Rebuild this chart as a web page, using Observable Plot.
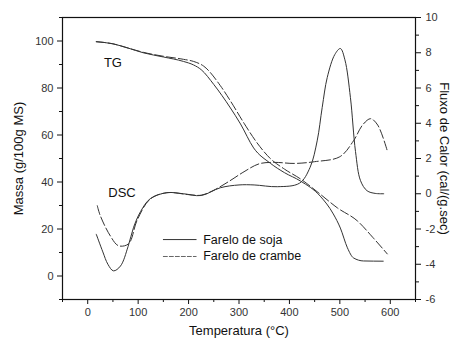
<!DOCTYPE html>
<html>
<head>
<meta charset="utf-8">
<script src="https://cdn.jsdelivr.net/npm/d3@7"></script>
<script src="https://cdn.jsdelivr.net/npm/@observablehq/plot@0.6"></script>
<style>
  html, body { margin: 0; padding: 0; background: #fff; }
  svg { font-family: "Liberation Sans", Arial, sans-serif; }
</style>
</head>
<body>
<div id="chart"></div>
<script>
// TG (left axis, Massa g/100g MS)
const tgSojaT   = [17, 50, 80, 110, 150, 190, 210, 225, 250, 283, 303, 329, 362, 390, 422, 461, 487, 501, 515, 527, 547, 586];
const tgSojaV   = [99.7, 98.8, 97, 95, 93.2, 91.3, 89.8, 87.8, 81.5, 71.5, 64.7, 54.5, 48, 44, 40.4, 34, 26.4, 20.4, 12, 7.7, 6.4, 6.3];
const tgCrambeT = [17, 50, 80, 110, 150, 190, 210, 230, 263, 283, 310, 336, 362, 390, 422, 460, 495, 535, 565, 594];
const tgCrambeV = [99.7, 98.8, 97, 95.2, 93.5, 92.2, 91.3, 89.3, 81, 74.5, 65, 56.6, 50, 45.5, 41.3, 35, 29, 23.4, 16.5, 9.4];

// DSC (right axis, Fluxo de Calor cal/(g.sec))
const dscSojaT   = [17, 30, 40, 51, 65, 80, 91, 105, 124, 157, 190, 225, 263, 300, 330, 376, 420, 441, 455, 465, 475, 490, 501, 510, 521, 531, 541, 554, 570, 587];
const dscSojaV   = [-2.3, -3.3, -4.0, -4.375, -4.1, -3.0, -1.9, -1.0, -0.28, 0.06, 0.0, -0.1, 0.34, 0.5, 0.5, 0.4, 0.6, 1.5, 3.0, 4.9, 6.6, 7.9, 8.24, 7.6, 5.45, 2.4, 0.74, 0.17, 0.02, 0.0];
const dscCrambeT = [19, 25, 45, 61, 81, 98, 124, 157, 200, 225, 250, 280, 310, 340, 370, 410, 450, 500, 527, 545, 561, 575, 594];
const dscCrambeV = [-0.68, -1.25, -2.4, -2.95, -2.84, -1.5, -0.3, 0.06, -0.05, -0.08, 0.2, 0.7, 1.25, 1.7, 1.78, 1.72, 1.82, 2.1, 3.0, 3.9, 4.26, 3.9, 2.44];

const xTicks = [0, 100, 200, 300, 400, 500, 600];
const xMinor = [-50, 50, 150, 250, 350, 450, 550, 650];
const yTicks = [0, 20, 40, 60, 80, 100];
const yMinor = [-10, 10, 30, 50, 70, 90, 110];
const rTicks = [-6, -4, -2, 0, 2, 4, 6, 8, 10];
const rMinor = [-5, -3, -1, 1, 3, 5, 7, 9];

const seriesNames = ["Farelo de soja", "Farelo de crambe"];

// map right-axis heat flow onto left-axis coordinate
const toLeft = h => 35 + 7.5 * h;

const mk = (T, V, conv) => T.map((t, i) => ({T: t, v: conv ? toLeft(V[i]) : V[i]}));
const tgSoja = mk(tgSojaT, tgSojaV, false);
const tgCrambe = mk(tgCrambeT, tgCrambeV, false);
const dscSoja = mk(dscSojaT, dscSojaV, true);
const dscCrambe = mk(dscCrambeT, dscCrambeV, true);

const legendSolid = [{T: 150, v: 15.5}, {T: 215, v: 15.5}];
const legendDash  = [{T: 150, v: 8.3}, {T: 215, v: 8.3}];

const lineCol = "#333";
const dash = "9,3";

const chart = Plot.plot({
  width: 454,
  height: 342,
  marginLeft: 62,
  marginRight: 39,
  marginTop: 17,
  marginBottom: 43,
  style: {fontFamily: "Liberation Sans, Arial, sans-serif", fontSize: "11px", color: "#222", background: "#fff"},
  x: {domain: [-50, 650]},
  y: {domain: [-10, 110]},
  marks: [
    Plot.frame({stroke: "#111", strokeWidth: 1.2}),
    Plot.axisX({ticks: xTicks, tickSize: 5, tickPadding: 4, label: null, fill: "#333", stroke: "#111"}),
    Plot.axisX({ticks: xMinor, tickSize: 3, tickFormat: () => "", label: null, stroke: "#111"}),
    Plot.axisY({ticks: yTicks, tickSize: 5, tickPadding: 4, label: null, fill: "#333", stroke: "#111"}),
    Plot.axisY({ticks: yMinor, tickSize: 3, tickFormat: () => "", label: null, stroke: "#111"}),
    Plot.axisY({anchor: "right", ticks: rTicks.map(toLeft), tickSize: 5, tickPadding: 5, tickFormat: v => String(Math.round((v - 35) / 7.5)), label: null, fill: "#333", stroke: "#111"}),
    Plot.axisY({anchor: "right", ticks: rMinor.map(toLeft), tickSize: 3, tickFormat: () => "", label: null, stroke: "#111"}),
    // curves
    Plot.line(tgSoja, {x: "T", y: "v", curve: "monotone-x", stroke: lineCol, strokeWidth: 1}),
    Plot.line(tgCrambe, {x: "T", y: "v", curve: "monotone-x", stroke: lineCol, strokeWidth: 1, strokeDasharray: dash}),
    Plot.line(dscSoja, {x: "T", y: "v", curve: "catmull-rom", stroke: lineCol, strokeWidth: 1}),
    Plot.line(dscCrambe, {x: "T", y: "v", curve: "catmull-rom", stroke: lineCol, strokeWidth: 1, strokeDasharray: dash}),
    // curve labels
    Plot.text(["TG"], {x: 50, y: 90.5, fontSize: 13, fill: "#111"}),
    Plot.text(["DSC"], {x: 68, y: 35.5, fontSize: 13, fill: "#111"}),
    // legend
    Plot.line(legendSolid, {x: "T", y: "v", stroke: lineCol, strokeWidth: 1}),
    Plot.line(legendDash, {x: "T", y: "v", stroke: "#666", strokeWidth: 1, strokeDasharray: "4,2"}),
    Plot.text([seriesNames[0]], {x: 229, y: 15.5, textAnchor: "start", fontSize: 12.5, fill: "#111"}),
    Plot.text([seriesNames[1]], {x: 229, y: 8.3, textAnchor: "start", fontSize: 12.5, fill: "#111"}),
    // axis titles
    Plot.text(["Temperatura (°C)"], {frameAnchor: "bottom", dy: 35, fontSize: 13, fill: "#111"}),
    Plot.text(["Massa (g/100g MS)"], {frameAnchor: "left", textAnchor: "middle", dx: -44, rotate: -90, fontSize: 13, fill: "#111"}),
    Plot.text(["Fluxo de Calor (cal/(g.sec)"], {frameAnchor: "right", textAnchor: "middle", dx: 29, rotate: 90, fontSize: 13, fill: "#111"})
  ]
});
document.getElementById("chart").appendChild(chart);
</script>
</body>
</html>
